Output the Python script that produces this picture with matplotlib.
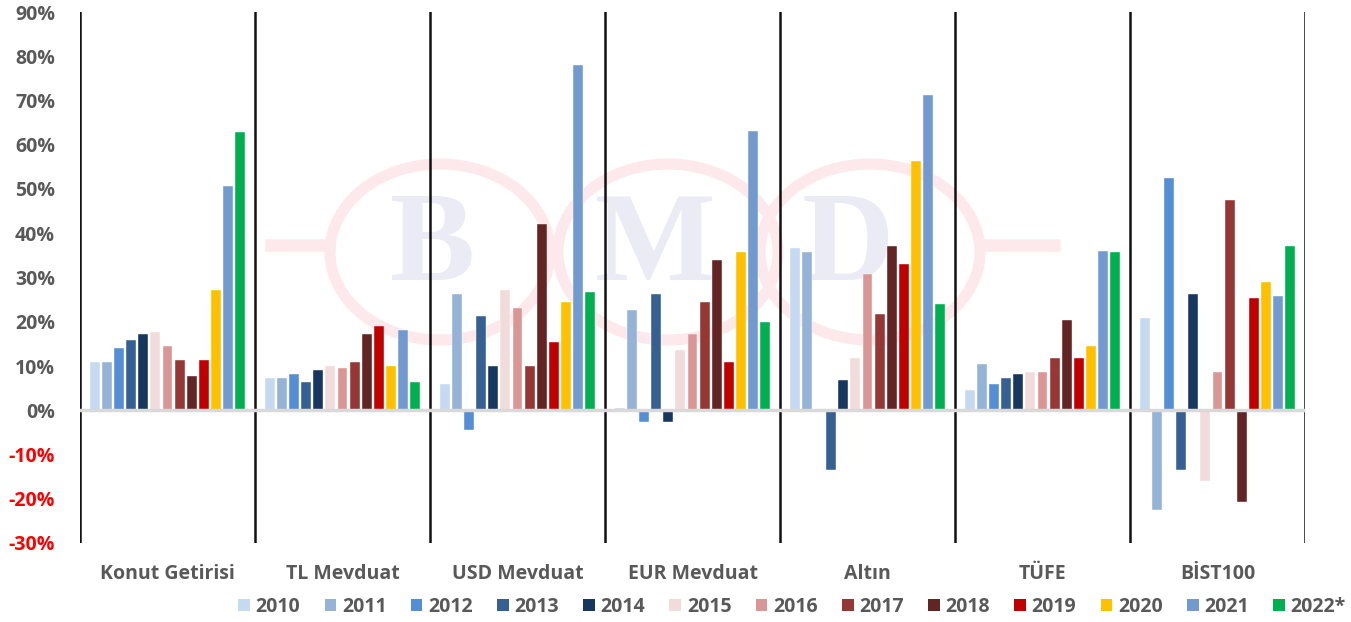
import matplotlib
matplotlib.use("Agg")
import matplotlib.pyplot as plt
from matplotlib.patches import Ellipse, Patch
import numpy as np

categories = ["Konut Getirisi", "TL Mevduat", "USD Mevduat", "EUR Mevduat", "Altın", "TÜFE", "BİST100"]
years = ["2010", "2011", "2012", "2013", "2014", "2015", "2016", "2017", "2018", "2019", "2020", "2021", "2022*"]
year_colors = ["#C5D9F1", "#95B3D7", "#558ED5", "#366092", "#17375E", "#F2DCDB", "#D99694",
               "#953735", "#632523", "#C00000", "#FFC000", "#729ACF", "#00B050"]

# values per category, in year order 2010..2022*
konut = [11.0, 11.0, 14.0, 15.9, 17.2, 17.6, 14.5, 11.3, 7.7, 11.3, 27.1, 50.7, 62.9]
tl_mevduat = [7.2, 7.2, 8.1, 6.3, 9.0, 10.0, 9.5, 10.9, 17.2, 19.0, 10.0, 18.1, 6.3]
usd_mevduat = [5.9, 26.2, -4.4, 21.3, 10.0, 27.1, 23.1, 10.0, 42.1, 15.4, 24.4, 78.1, 26.7]
eur_mevduat = [0.4, 22.6, -2.6, 26.2, -2.6, 13.6, 17.2, 24.4, 33.9, 10.9, 35.7, 63.2, 19.9]
altin = [36.6, 35.7, 0.0, -13.4, 6.8, 11.8, 30.8, 21.7, 37.1, 33.0, 56.4, 71.3, 24.0]
tufe = [4.5, 10.4, 5.9, 7.2, 8.1, 8.6, 8.6, 11.8, 20.4, 11.8, 14.5, 36.1, 35.7]
bist100 = [20.8, -22.5, 52.4, -13.4, 26.2, -16.1, 8.6, 47.5, -20.7, 25.3, 29.0, 25.8, 37.1]

yticks = [-30, -20, -10, 0, 10, 20, 30, 40, 50, 60, 70, 80, 90]

series_by_cat = np.array([konut, tl_mevduat, usd_mevduat, eur_mevduat, altin, tufe, bist100])

W, H = 1351, 622
fig = plt.figure(figsize=(W / 100, H / 100), dpi=100)
fig.patch.set_facecolor("white")

FONT = "Open Sans"
TXT = "#595959"

# --- watermark (background) ---
bg = fig.add_axes([0, 0, 1, 1])
bg.set_zorder(-1)
bg.set_xlim(0, W)
bg.set_ylim(H, 0)
bg.axis("off")
pink = "#FDE9EC"
for cx in (440, 668, 870):
    bg.add_patch(Ellipse((cx, 252), 220, 176, fill=False, ec=pink, lw=8))
bg.plot([265, 335], [245, 245], color=pink, lw=9, solid_capstyle="butt")
bg.plot([975, 1060], [245, 245], color=pink, lw=9, solid_capstyle="butt")
for x, ch in ((432, "B"), (655, "M"), (848, "D")):
    bg.text(x, 250, ch, fontsize=92, family="Liberation Serif", weight="bold",
            color="#EAEBF4", ha="center", va="center")

# --- main axes ---
ax = fig.add_axes([80 / W, 1 - 543 / H, 1225 / W, 531 / H])
ax.set_facecolor("none")
ncat = len(categories)
nyr = len(years)
slot = 0.069
bw = 0.057
centers = np.arange(ncat) + 0.5
for k in range(nyr):
    xs = centers + (k - (nyr - 1) / 2) * slot
    ax.bar(xs, series_by_cat[:, k], width=bw, color=year_colors[k], zorder=2,
           edgecolor="white", linewidth=0.3)

ax.set_xlim(0, ncat)
ax.set_ylim(-30, 90)
for k in range(ncat + 1):
    ax.axvline(k, color="#111111", lw=1.8, zorder=1)
ax.axhline(0, color="#D9D9D9", lw=2.5, zorder=3)
for s in ax.spines.values():
    s.set_visible(False)

ax.set_yticks(yticks)
ax.set_yticklabels([f"{v}%" for v in yticks], fontsize=14, family=FONT, weight="bold")
for lab, v in zip(ax.get_yticklabels(), yticks):
    lab.set_color("#FF0000" if v < 0 else TXT)
ax.tick_params(axis="y", length=0, pad=18)

ax.set_xticks(centers)
ax.set_xticklabels(categories, fontsize=14, family=FONT, weight="bold", color=TXT)
ax.tick_params(axis="x", length=0, pad=15)

handles = [Patch(facecolor=c, edgecolor="none") for c in year_colors]
fig.legend(handles, years, loc="center", bbox_to_anchor=(792 / W, 1 - 607 / H), ncol=nyr,
           frameon=False, handlelength=0.6, handleheight=0.6, handletextpad=0.3,
           columnspacing=1.24, prop={"family": FONT, "weight": "bold", "size": 14},
           labelcolor=TXT)

fig.savefig("out.png", dpi=100, facecolor="white")
